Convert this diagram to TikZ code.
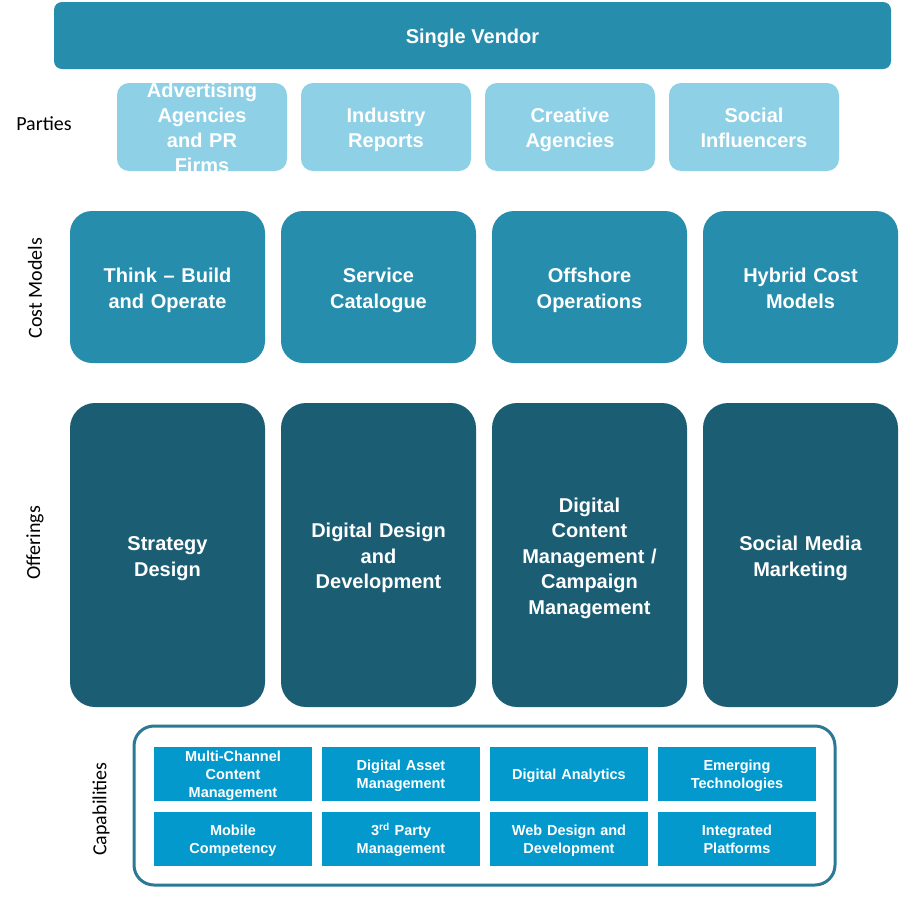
\documentclass[tikz,border=0pt]{standalone}
\usepackage{fontspec}
\setmainfont{Liberation Sans}
\newfontfamily\sidefont{Carlito}
\usepackage{tikz}
\usetikzlibrary{positioning}
\definecolor{vendorblue}{RGB}{38,141,172}
\definecolor{partyblue}{RGB}{142,208,230}
\definecolor{offerteal}{RGB}{27,94,116}
\definecolor{capblue}{RGB}{3,153,204}
\definecolor{frameblue}{RGB}{42,122,149}
\tikzstyle{box} = [rectangle, inner sep=0pt, outer sep=0pt, text=white, align=center, text height=21pt, execute at end node={\vphantom{gpy}}]
\tikzstyle{vendor} = [box, fill=vendorblue, rounded corners=8pt, minimum width=837pt, minimum height=67pt, font=\bfseries\fontsize{20}{25}\selectfont]
\tikzstyle{party} = [box, fill=partyblue, rounded corners=12pt, text width=160pt, minimum width=170pt, minimum height=88pt, node distance=184pt, font=\bfseries\fontsize{20}{25}\selectfont]
\tikzstyle{cost} = [box, fill=vendorblue, rounded corners=22pt, text width=180pt, minimum width=195pt, minimum height=152pt, node distance=211pt, font=\bfseries\fontsize{20}{25.5}\selectfont]
\tikzstyle{offer} = [box, fill=offerteal, rounded corners=25pt, text width=180pt, minimum width=195pt, minimum height=304pt, node distance=211pt, font=\bfseries\fontsize{20}{25.5}\selectfont]
\tikzstyle{capbox} = [box, fill=capblue, text width=150pt, minimum width=158pt, minimum height=54pt, node distance=168pt, text height=14.5pt, font=\bfseries\fontsize{14.5}{18}\selectfont]
\tikzstyle{side} = [inner sep=0pt, font=\sidefont\fontsize{20}{24}\selectfont]

\begin{document}
\begin{tikzpicture}[x=1pt, y=-1pt]
	\fill [white] (0,0) rectangle (900,900);
	\useasboundingbox (0,0) rectangle (900,900);
	
	\node [vendor] (vendor) at (472.5,35.5) {Single Vendor};
	
	\node [side] (parties) at (44,124) {Parties};
	\node [party] (adv) at (202,127) {};
	\node [box, text width=160pt, font=\bfseries\fontsize{20}{25}\selectfont] (advtext) at (adv.center) {Advertising\\Agencies\\and PR\\Firms};
	\node [party, right of=adv] (industry) {Industry\\Reports};
	\node [party, right of=industry] (creative) {Creative\\Agencies};
	\node [party, right of=creative] (social) {Social\\Influencers};
	
	\node [side, rotate=90] (costlabel) at (35,288) {Cost Models};
	\node [cost] (think) at (167.5,287) {Think -- Build\\and Operate};
	\node [cost, right of=think] (catalogue) {Service\\Catalogue};
	\node [cost, right of=catalogue] (offshore) {Offshore\\Operations};
	\node [cost, right of=offshore] (hybrid) {Hybrid Cost\\Models};
	
	\node [side, rotate=90] (offerlabel) at (35,543) {Offerings};
	\node [offer] (strategy) at (167.5,555) {Strategy\\Design};
	\node [offer, right of=strategy] (design) {Digital Design\\and\\Development};
	\node [offer, right of=design] (content) {Digital\\Content\\Management /\\Campaign\\Management};
	\node [offer, right of=content] (smm) {Social Media\\Marketing};
	
	\node [side, rotate=90] (caplabel) at (101,809) {Capabilities};
	\node [draw=frameblue, line width=3pt, rounded corners=20pt, minimum width=701pt, minimum height=159pt, inner sep=0pt] (capframe) at (484.5,805.5) {};
	\node [capbox] (multi) at (233,774) {Multi-Channel\\Content\\Management};
	\node [capbox, right of=multi] (asset) {Digital Asset\\Management};
	\node [capbox, right of=asset] (analytics) {Digital Analytics};
	\node [capbox, right of=analytics] (emerging) {Emerging\\Technologies};
	\node [capbox] (mobile) at (233,839) {Mobile\\Competency};
	\node [capbox, right of=mobile] (thirdparty) {3\textsuperscript{rd} Party\\Management};
	\node [capbox, right of=thirdparty] (web) {Web Design and\\Development};
	\node [capbox, right of=web] (platforms) {Integrated\\Platforms};
\end{tikzpicture}
\end{document}
